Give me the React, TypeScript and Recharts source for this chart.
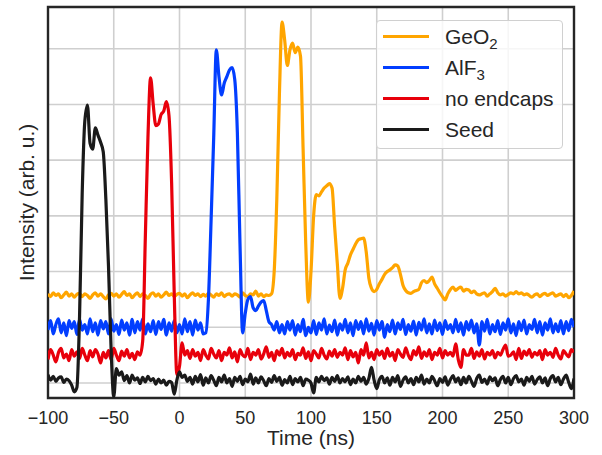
import React from 'react';
import { LineChart, Line, XAxis, YAxis, CartesianGrid, Legend, ReferenceArea } from 'recharts';

// sampling grid (ns)
const T_START = -100;
const T_STEP = 2;

// Seed (black), one value per 2 ns from -100 to 300
const SEED = [
  0.15, 0.05, 0.12, 0.03, 0.09, 0.11, 0.01, 0.07, 0.04, -0.04,
  -0.16, -0.08, 1.2, 3.4, 4.7, 4.99, 4.3, 4.2, 4.58, 4.45,
  4.32, 4.15, 3.3, 2.1, 0.6, -0.25, 0.26, 0.14, 0.2, 0.04,
  0.13, 0.0, 0.14, 0.05, 0.09, -0.01, 0.1, 0.02, 0.12, 0.04,
  0.08, -0.02, 0.07, 0.0, 0.05, -0.04, 0.03, 0.01, -0.2, 0.05,
  0.2, 0.1, 0.14, 0.03, 0.1, -0.02, 0.12, 0.02, 0.15, -0.04,
  0.09, 0.0, 0.13, 0.05, -0.05, 0.1, 0.02, 0.14, 0.0, 0.08,
  -0.06, 0.1, 0.03, 0.12, -0.03, 0.07, 0.02, 0.16, -0.02, 0.09,
  0.0, 0.11, 0.04, -0.05, 0.08, 0.01, 0.13, 0.03, 0.1, -0.04,
  0.06, 0.0, 0.12, -0.03, 0.08, 0.02, 0.1, -0.05, 0.07, 0.05,
  0.0, -0.18, 0.1, 0.02, 0.12, 0.04, 0.09, -0.02, 0.1, 0.03,
  0.13, 0.0, 0.08, 0.02, 0.11, -0.03, 0.07, 0.0, 0.12, 0.03,
  0.1, -0.02, 0.08, 0.28, 0.05, -0.1, 0.06, 0.12, 0.0, 0.09,
  -0.04, 0.1, 0.02, 0.13, -0.06, 0.05, 0.11, 0.0, 0.08, -0.03,
  0.1, 0.02, 0.14, -0.02, 0.07, 0.0, 0.12, 0.04, -0.05, 0.08,
  0.01, 0.11, -0.04, 0.06, 0.13, 0.02, 0.09, -0.03, 0.1, 0.0,
  0.12, 0.03, -0.06, 0.08, 0.14, 0.01, 0.07, -0.02, 0.11, 0.04,
  0.09, -0.05, 0.06, 0.12, 0.0, 0.1, -0.03, 0.08, 0.13, 0.02,
  0.07, -0.04, 0.1, 0.03, 0.12, -0.02, 0.06, 0.11, 0.0, 0.09,
  -0.05, 0.08, 0.13, 0.02, 0.1, -0.03, 0.07, 0.14, 0.01, -0.1,
  0.08,
];

// no endcaps (red)
const NO_ENDCAPS = [
  0.42, 0.6, 0.5, 0.38, 0.55, 0.62, 0.45, 0.52, 0.4, 0.6,
  0.48, 0.56, 0.44, 0.62, 0.5, 0.4, 0.58, 0.47, 0.6, 0.52,
  0.36, 0.55, 0.45, 0.58, 0.42, 0.62, 0.5, 0.4, 0.57, 0.48,
  0.6, 0.45, 0.53, 0.42, 0.56, 0.5, 0.75, 2.6, 4.4, 5.48,
  5.0, 4.62, 4.65, 4.82, 4.88, 5.05, 4.8, 3.6, 1.6, 0.15,
  0.3, 0.72, 0.5, 0.58, 0.44, 0.6, 0.48, 0.55, 0.4, 0.6,
  0.5, 0.43, 0.62, 0.52, 0.45, 0.58, 0.4, 0.55, 0.5, 0.63,
  0.45, 0.56, 0.38, 0.6, 0.5, 0.47, 0.62, 0.42, 0.55, 0.5,
  0.6, 0.43, 0.52, 0.65, 0.46, 0.55, 0.4, 0.58, 0.5, 0.62,
  0.45, 0.55, 0.48, 0.6, 0.42, 0.53, 0.5, 0.63, 0.44, 0.56,
  0.4, 0.58, 0.52, 0.45, 0.62, 0.5, 0.43, 0.57, 0.48, 0.6,
  0.46, 0.55, 0.5, 0.63, 0.42, 0.58, 0.47, 0.55, 0.36, 0.6,
  0.5, 0.72, 0.45, 0.55, 0.42, 0.6, 0.5, 0.57, 0.44, 0.62,
  0.48, 0.55, 0.4, 0.6, 0.52, 0.46, 0.63, 0.5, 0.42, 0.58,
  0.5, 0.65, 0.44, 0.56, 0.48, 0.6, 0.42, 0.55, 0.5, 0.62,
  0.45, 0.58, 0.5, 0.55, 0.48, 0.7, 0.42, 0.28, 0.6, 0.5,
  0.5, 0.62, 0.44, 0.56, 0.48, 0.6, 0.43, 0.55, 0.5, 0.58,
  0.45, 0.55, 0.5, 0.6, 0.68, 0.48, 0.5, 0.56, 0.42, 0.62,
  0.44, 0.57, 0.5, 0.6, 0.46, 0.55, 0.5, 0.58, 0.42, 0.6,
  0.5, 0.55, 0.46, 0.62, 0.5, 0.43, 0.58, 0.52, 0.47, 0.6,
  0.55,
];

// AlF3 (blue)
const ALF3 = [
  0.95, 1.12, 0.88, 1.05, 1.15, 0.9, 1.08, 0.85, 1.12, 0.98,
  1.1, 0.87, 1.14, 0.95, 1.05, 0.88, 1.15, 0.92, 1.08, 0.86,
  1.12, 0.97, 1.1, 0.88, 1.15, 0.93, 1.05, 0.87, 1.13, 0.95,
  1.08, 0.86, 1.14, 0.9, 1.1, 0.95, 1.15, 0.88, 1.06, 0.92,
  1.12, 0.87, 1.1, 0.96, 1.14, 0.86, 1.08, 0.93, 1.12, 0.9,
  1.05, 0.88, 1.15, 0.92, 1.1, 0.86, 1.13, 0.95, 1.08, 0.88,
  0.9, 1.5, 2.9, 4.4, 5.98, 5.5, 5.17, 5.38, 5.5, 5.62,
  5.66, 5.45, 4.5, 2.5, 0.9, 1.25, 1.5, 1.55, 1.35, 1.3,
  1.38, 1.45, 1.48, 1.3, 1.1, 1.05, 0.95, 1.1, 0.9, 1.05,
  0.88, 1.1, 0.95, 1.12, 0.86, 1.05, 0.92, 1.14, 0.85, 1.0,
  0.9, 1.12, 0.87, 1.08, 0.95, 1.15, 0.88, 1.04, 0.92, 1.13,
  0.86, 1.06, 0.95, 1.14, 0.9, 1.08, 0.85, 1.12, 0.96, 1.1,
  0.88, 1.15, 0.93, 1.07, 0.86, 1.12, 0.95, 1.1, 0.82, 1.05,
  0.92, 1.13, 0.88, 1.08, 0.96, 1.14, 0.87, 1.05, 0.93, 1.11,
  0.86, 1.09, 0.95, 1.15, 0.9, 1.06, 0.88, 1.13, 0.94, 1.08,
  0.87, 1.12, 0.96, 1.05, 0.9, 1.14, 0.92, 1.08, 0.86, 1.1,
  0.95, 1.13, 0.9, 1.06, 0.68, 1.1, 0.93, 1.14, 0.88, 1.05,
  0.92, 1.12, 0.87, 1.08, 0.95, 1.15, 0.9, 1.06, 0.85, 1.1,
  0.94, 1.13, 0.88, 1.05, 0.96, 1.14, 0.9, 1.1, 0.86, 1.08,
  0.95, 1.15, 0.9, 1.06, 0.92, 1.12, 0.88, 1.1, 0.94, 1.14,
  1.0,
];

// GeO2 (orange)
const GEO2 = [
  1.6, 1.55, 1.62, 1.57, 1.6, 1.53, 1.58, 1.63, 1.56, 1.6,
  1.54, 1.59, 1.61, 1.55, 1.6, 1.57, 1.52, 1.58, 1.62, 1.56,
  1.6, 1.55, 1.51, 1.58, 1.61, 1.56, 1.6, 1.54, 1.59, 1.64,
  1.57, 1.6, 1.53, 1.58, 1.62, 1.55, 1.6, 1.57, 1.52, 1.59,
  1.62, 1.56, 1.6, 1.54, 1.58, 1.63, 1.57, 1.6, 1.55, 1.59,
  1.61, 1.56, 1.6, 1.53, 1.58, 1.62, 1.57, 1.6, 1.55, 1.59,
  1.56, 1.61, 1.58, 1.54, 1.6, 1.57, 1.62, 1.55, 1.59, 1.6,
  1.56, 1.6, 1.58, 1.54, 1.62, 1.57, 1.55, 1.6, 1.58, 1.65,
  1.56, 1.6, 1.55, 1.58, 1.57, 1.6, 2.0, 3.3, 5.2, 6.48,
  6.15, 5.7, 5.98, 6.1, 5.93, 6.03, 5.87, 4.2, 2.5, 1.45,
  2.0, 3.0, 3.38, 3.36, 3.43, 3.5, 3.54, 3.58, 3.5, 2.8,
  2.15, 1.52, 1.7, 2.03, 2.15, 2.3, 2.4, 2.5, 2.57, 2.59,
  2.6, 2.35, 1.88, 1.7, 1.64, 1.68, 1.78, 1.86, 1.95, 2.0,
  2.03, 2.07, 2.12, 2.1, 1.95, 1.75, 1.66, 1.62, 1.61, 1.64,
  1.66, 1.68, 1.8, 1.84, 1.8, 1.84, 1.9, 1.78, 1.7, 1.62,
  1.55, 1.49, 1.6, 1.68, 1.72, 1.66, 1.7, 1.72, 1.65, 1.68,
  1.67, 1.62, 1.65, 1.6, 1.58, 1.6, 1.62, 1.56, 1.6, 1.64,
  1.7, 1.62, 1.58, 1.6, 1.56, 1.59, 1.62, 1.6, 1.64, 1.6,
  1.62, 1.58, 1.6, 1.57, 1.54, 1.58, 1.6, 1.55, 1.59, 1.61,
  1.57, 1.6, 1.62, 1.56, 1.58, 1.6, 1.55, 1.59, 1.53, 1.57,
  1.65,
];

const X_TICKS = [-100, -50, 0, 50, 100, 150, 200, 250, 300];
const Y_TICKS = [0, 1, 2, 3, 4, 5, 6];
const X_DOMAIN: [number, number] = [-100, 300];
const Y_DOMAIN: [number, number] = [-0.27, 6.75];

const SERIES = [
  { key: 'geo2', name: 'GeO', sub: '2', color: '#FFA500', values: GEO2 },
  { key: 'alf3', name: 'AlF', sub: '3', color: '#023EFF', values: ALF3 },
  { key: 'noend', name: 'no endcaps', sub: '', color: '#E8000B', values: NO_ENDCAPS },
  { key: 'seed', name: 'Seed', sub: '', color: '#1a1a1a', values: SEED },
];

const data = GEO2.map((_, i) => {
  const row: Record<string, number> = { t: T_START + i * T_STEP };
  SERIES.forEach((s) => {
    row[s.key] = s.values[i];
  });
  return row;
});

const FONT = '"Liberation Sans", Arial, sans-serif';
const TEXT = '#262626';

const fmt = (v: number) => (v < 0 ? '\u2212' + Math.abs(v) : String(v));

const LegendBox = () => (
  <div
    style={{
      boxSizing: 'border-box',
      width: 187,
      height: 129,
      border: '1px solid #d0d0d0',
      borderRadius: 4,
      background: 'rgba(255,255,255,0.8)',
      fontFamily: FONT,
      fontSize: 21,
      color: TEXT,
      paddingTop: 0,
    }}
  >
    {SERIES.map((s) => (
      <div key={s.key} style={{ position: 'relative', height: 31, lineHeight: '31px' }}>
        <div
          style={{
            position: 'absolute',
            left: 6,
            top: 14,
            width: 46,
            height: 3,
            background: s.color,
          }}
        />
        <span style={{ position: 'absolute', left: 68, top: 0, whiteSpace: 'nowrap' }}>
          {s.name}
          {s.sub ? (
            <span style={{ fontSize: 15, position: 'relative', top: 5 }}>{s.sub}</span>
          ) : null}
        </span>
      </div>
    ))}
  </div>
);

const NoTick = () => <g />;

export default function App() {
  return (
    <div style={{ position: 'absolute', left: 0, top: 0, width: 602, height: 455, background: '#fff' }}>
      <LineChart
        width={602}
        height={455}
        data={data}
        margin={{ top: 7, right: 28, bottom: 7, left: 6 }}
      >
        <CartesianGrid
          stroke="#cfcfcf"
          strokeWidth={1.6}
          horizontalValues={Y_TICKS}
          verticalValues={X_TICKS}
        />
        <XAxis
          dataKey="t"
          type="number"
          domain={X_DOMAIN}
          ticks={X_TICKS}
          tickFormatter={fmt}
          axisLine={false}
          tickLine={false}
          tickSize={6}
          tickMargin={7}
          height={50}
          allowDataOverflow
          tick={{ fontSize: 18, fontFamily: FONT, fill: TEXT }}
          label={{
            value: 'Time (ns)',
            position: 'insideBottom',
            offset: 3,
            style: { fontSize: 21, fontFamily: FONT, fill: TEXT },
          }}
        />
        <YAxis
          type="number"
          domain={Y_DOMAIN}
          ticks={Y_TICKS}
          tick={NoTick}
          axisLine={false}
          tickLine={false}
          width={42}
          allowDataOverflow
          label={{
            value: 'Intensity (arb. u.)',
            angle: -90,
            position: 'center',
            style: { fontSize: 21, fontFamily: FONT, fill: TEXT, textAnchor: 'middle' },
          }}
        />
        {SERIES.map((s) => (
          <Line
            key={s.key}
            dataKey={s.key}
            name={s.name}
            type="monotone"
            stroke={s.color}
            strokeWidth={3.2}
            strokeLinejoin="round"
            dot={false}
            isAnimationActive={false}
          />
        ))}
        <ReferenceArea
          x1={X_DOMAIN[0]}
          x2={X_DOMAIN[1]}
          y1={Y_DOMAIN[0]}
          y2={Y_DOMAIN[1]}
          fill="none"
          fillOpacity={0}
          stroke="#262626"
          strokeWidth={2.4}
          ifOverflow="visible"
        />
        <Legend
          layout="horizontal"
          verticalAlign="middle"
          align="center"
          content={() => <LegendBox />}
          wrapperStyle={{ left: 376, top: 20, width: 187, height: 129 }}
        />
      </LineChart>
    </div>
  );
}
